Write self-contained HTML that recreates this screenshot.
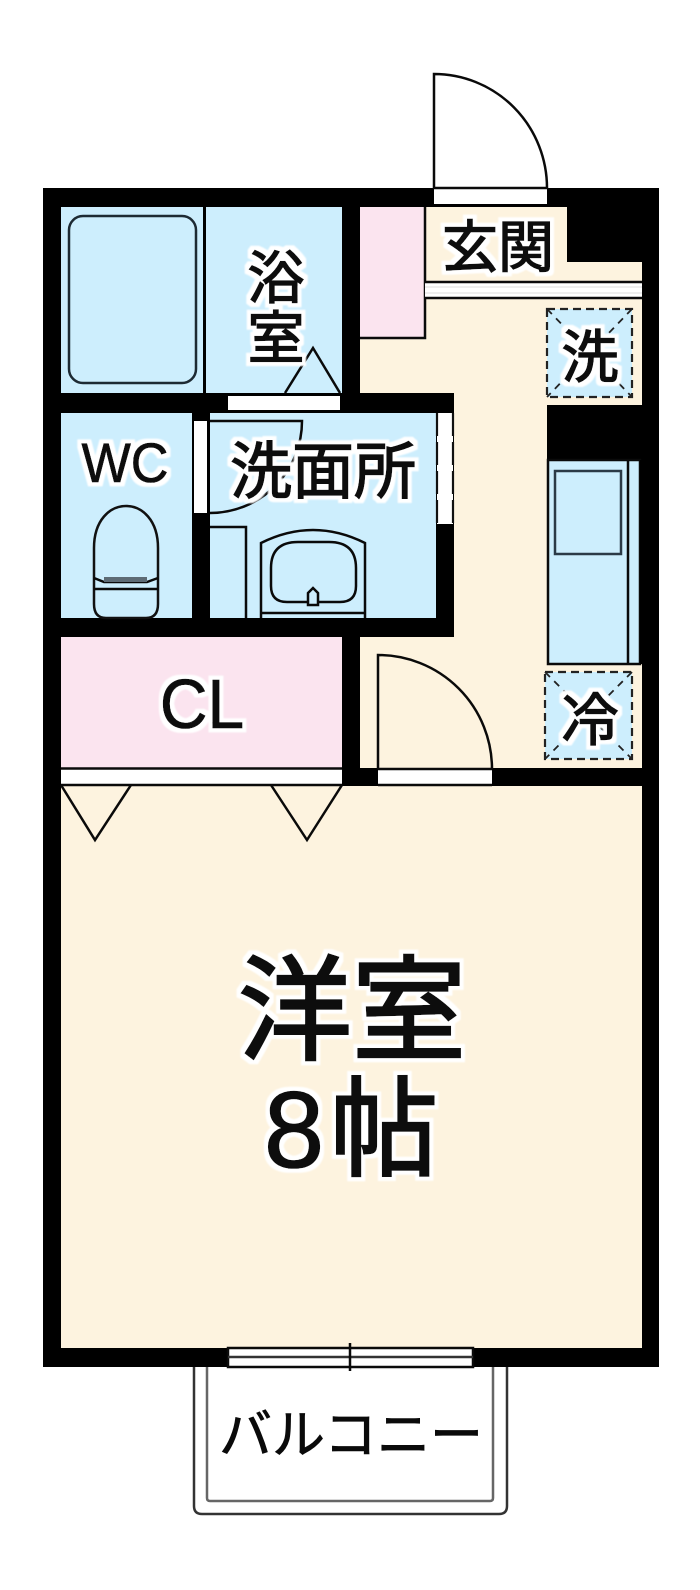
<!DOCTYPE html>
<html lang="ja"><head><meta charset="utf-8"><title>間取り図</title>
<style>
html,body{margin:0;padding:0;background:#fff}
svg{display:block}
text{font-family:"Noto Sans CJK JP","Liberation Sans",sans-serif;fill:#0a0a0a;stroke:#0a0a0a;stroke-width:1.5;text-anchor:middle}
.lat{font-family:"Liberation Sans","Noto Sans CJK JP",sans-serif;stroke-width:.8}
.l{fill:none;stroke:#0a0a0a;stroke-width:2.500}
.s{fill:none;stroke:#2b3a46;stroke-width:2.500}
.d{fill:none;stroke:#222;stroke-width:2.200;stroke-dasharray:8 5}
</style></head><body>
<svg width="700" height="1590" viewBox="0 0 700 1590" xmlns="http://www.w3.org/2000/svg">
<defs>
<filter id="h" x="-20%" y="-20%" width="140%" height="140%">
<feMorphology in="SourceAlpha" operator="dilate" radius="4" result="m"/>
<feGaussianBlur in="m" stdDeviation=".7" result="b"/>
<feFlood flood-color="#fff"/><feComposite in2="b" operator="in" result="w"/>
<feMerge><feMergeNode in="w"/><feMergeNode in="SourceGraphic"/></feMerge>
</filter>
</defs>
<rect width="700" height="1590" fill="#fff"/>

<!-- balcony -->
<path d="M194 1366V1506Q194 1514 202 1514H499Q507 1514 507 1506V1366" fill="#fff" stroke="#333" stroke-width="2.500"/>
<path d="M207 1366V1498Q207 1501 210 1501H490Q493 1501 493 1498V1366" fill="#fff" stroke="#666" stroke-width="2.500"/>

<!-- walls -->
<rect x="43" y="188" width="616" height="1179" fill="#000"/>

<!-- hall first -->
<rect x="360" y="207" width="282" height="561" fill="#fdf3df"/>
<rect x="360" y="207" width="65" height="131" fill="#fbe4ef"/>
<path d="M360 338H425V207" class="l"/>
<rect x="567" y="207" width="75" height="55" fill="#000"/>

<!-- internal walls -->
<rect x="342" y="393" width="112" height="244" fill="#000"/>
<rect x="342" y="637" width="18" height="149" fill="#000"/>

<!-- rooms -->
<rect x="61" y="207" width="142" height="186" fill="#cdeefd"/>
<rect x="206" y="207" width="136" height="186" fill="#cdeefd"/>
<rect x="61" y="413" width="131" height="205" fill="#cdeefd"/>
<rect x="210" y="413" width="226" height="205" fill="#cdeefd"/>
<rect x="61" y="637" width="281" height="131" fill="#fbe4ef"/>
<rect x="61" y="786" width="581" height="562" fill="#fdf3df"/>

<!-- entry door -->
<rect x="434" y="189" width="113" height="15" fill="#fff"/>
<path d="M434 188V74A113 114 0 0 1 547 188Z" fill="#fff" stroke="#0a0a0a" stroke-width="2.500"/>

<!-- step -->
<rect x="425" y="282" width="217" height="16" fill="#fff"/>
<path d="M425 282H642M425 298H642" class="l"/>
<path d="M425 287H642M425 293H642" fill="none" stroke="#ddd" stroke-width="1"/>

<!-- washer -->
<rect x="547" y="309" width="85" height="88" fill="#cdeefd"/>
<rect x="547" y="309" width="85" height="88" class="d"/>
<path d="M547 309L632 397M632 309L547 397" fill="none" stroke="#222" stroke-width="1.800" stroke-dasharray="7 6"/>

<!-- black block over kitchen -->
<rect x="547" y="405" width="95" height="55" fill="#000"/>

<!-- kitchen -->
<rect x="548" y="460" width="92" height="204" fill="#cdeefd" stroke="#0a0a0a" stroke-width="2.500"/>
<path d="M628 460V665" class="l"/>
<rect x="555" y="471" width="66" height="83" class="s"/>
<rect x="640" y="460" width="2" height="204" fill="#000"/>

<!-- fridge -->
<rect x="545" y="672" width="87" height="87" fill="#cdeefd"/>
<rect x="545" y="672" width="87" height="87" class="d"/>
<path d="M545 672L632 759M632 672L545 759" fill="none" stroke="#222" stroke-width="1.800" stroke-dasharray="7 6"/>

<!-- room door -->
<rect x="378" y="770" width="114" height="14" fill="#fff"/>
<path d="M378 769V655A114 114 0 0 1 492 769" class="l"/>
<path d="M378 769H492M378 785H492" class="l"/>

<!-- closet doors -->
<rect x="61" y="769" width="281" height="16" fill="#fff"/>
<path d="M61 768.500H342M61 785H342" class="l"/>
<path d="M61 785L95 840L131 785M271 785L307 840L342 785" class="l"/>

<!-- bath -->
<rect x="69" y="216" width="127" height="167" rx="14" fill="none" stroke="#1d2a33" stroke-width="2.500"/>
<rect x="228" y="396" width="112" height="14" fill="#fff"/>
<path d="M285 393L313 348L340 393" class="l"/>

<!-- washroom door -->
<rect x="194" y="421" width="13" height="92" fill="#fff"/>
<path d="M210 421H302A92 92 0 0 1 210 513" class="l"/>

<!-- washroom window -->
<rect x="437" y="413" width="16" height="111" fill="#fff"/>
<path d="M437 413V524M453 413V524" fill="none" stroke="#111" stroke-width="2.200" stroke-dasharray="23 6"/>

<!-- cabinet -->
<path d="M210 527H246V618" class="l"/>

<!-- sink -->
<path d="M261 618V543Q313 517 365 543V618M261 613H365" class="l"/>
<path d="M271 568Q271 542 298 542H329Q356 542 356 568V586Q356 602 340 602H287Q271 602 271 586Z" class="l"/>
<path d="M308 605V593L313 588L318 593V605Z" fill="#cdeefd" stroke="#0a0a0a" stroke-width="2.500"/>

<!-- toilet -->
<path d="M94 604V548C94 520 110 506 126 506C142 506 158 520 158 548V604Q158 618 146 618H106Q94 618 94 604Z" fill="none" stroke="#111" stroke-width="2.500"/>
<path d="M94 578L104 582H147L158 578M94 589H158" class="l"/>
<rect x="104" y="577" width="43" height="5" fill="#5d6b75"/>

<!-- balcony window -->
<rect x="228" y="1348" width="245" height="19" fill="#fff" stroke="#0a0a0a" stroke-width="2.500"/>
<path d="M228 1357H473" stroke="#333" stroke-width="2.500"/>
<path d="M350 1343V1371" class="l"/>

<!-- labels -->
<g filter="url(#h)">
<text x="498" y="267" font-size="56">玄関</text>
<text x="590" y="377" font-size="57">洗</text>
<text x="276" y="298" font-size="57">浴</text>
<text x="276" y="358" font-size="57">室</text>
<text x="323" y="493" font-size="62">洗面所</text>
<text class="lat" x="125" y="482" font-size="55" transform="translate(125 482) scale(.95 1.02) translate(-125 -482)">WC</text>
<text class="lat" x="202" y="728" font-size="66" transform="translate(202 728) scale(1 1.05) translate(-202 -728)">CL</text>
<text x="590" y="740" font-size="57">冷</text>
<text x="352" y="1051" font-size="114" style="stroke-width:2.500">洋室</text>
<text class="lat" x="294" y="1167" font-size="108" style="stroke-width:1.500">8</text>
<text x="384" y="1167" font-size="108" style="stroke-width:2.500">帖</text>
</g>
<text x="351" y="1453" font-size="53" style="stroke-width:.8">バルコニー</text>
</svg>
</body></html>
